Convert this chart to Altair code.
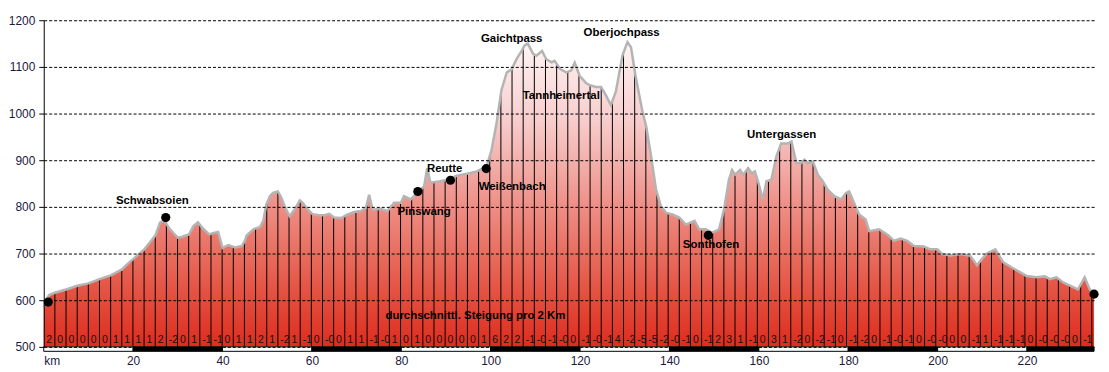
import altair as alt
import pandas as pd

# ---- elevation profile (km, metres) ----
prof_km = [0.0, 0.5, 1.2, 2.5, 5, 7.5, 10, 12.5, 15, 17.5, 19, 20, 22.5, 24, 25, 26, 27, 28, 29, 30,
           31, 32.5, 33.5, 34.5, 35.5, 37, 38, 39, 40, 41.3, 42.8, 44.3, 45, 45.4, 46.9, 48.4, 49.1,
           49.8, 50.6, 51.3, 52.4, 53.2, 53.9, 55, 56.1, 57.3, 58, 59.1, 60.2, 61.7, 62.8, 63.9, 65,
           66.5, 68, 69.5, 71, 72.1, 72.8, 73.6, 75.4, 76.9, 78.4, 79.9, 80.6, 82.1, 83.6, 85.1, 85.8,
           86.5, 88.7, 90.2, 92.4, 94.7, 96.9, 99.1, 100.2, 101.3, 102.4, 103.6, 104.7, 105.8, 106.9,
           107.6, 108.3, 109.5, 110.2, 111.5, 112.4, 113.6, 114.3, 115.5, 116.9, 118.0, 118.8, 119.9,
           121.4, 122.4, 123.6, 124.7, 125.8, 126.9, 128.0, 129.5, 130.6, 131.4, 132.4, 133.9, 134.8,
           135.9, 137, 138.1, 139.3, 140.7, 142.2, 143.7, 145.6, 146.7, 148.1, 149.6, 151.1, 152.2,
           153.3, 154, 154.7, 155.8, 156.5, 157.6, 158.4, 159.1, 159.8, 160.9, 161.7, 162.8, 163.9,
           165, 166.5, 167.3, 168.4, 169.5, 170.2, 170.9, 172.1, 173.2, 174.3, 175.4, 176.9, 178.4,
           179.5, 180.2, 181.3, 182.4, 183.9, 184.7, 186.9, 189.1, 190.2, 191.7, 193.2, 194.7, 196.9,
           198.4, 199.9, 201, 202.9, 205.1, 207.3, 208.8, 209.9, 211, 212.9, 214.7, 216.6, 218.4,
           219.9, 222.1, 224, 225.1, 226.6, 228.1, 229.6, 231.4, 232.1, 232.9, 234, 235]
prof_elev = [585, 600, 611, 616, 623, 631, 636, 645, 653, 666, 680, 688, 709, 727, 739, 766, 771, 755, 744, 734,
             736, 741, 759, 767, 755, 741, 744, 746, 712, 718, 713, 716, 727, 739, 752, 757, 770,
             805, 823, 830, 833, 819, 801, 780, 794, 814, 808, 794, 784, 782, 782, 785, 777,
             776, 784, 789, 791, 798, 826, 794, 796, 791, 809, 809, 823, 816, 831, 844, 883,
             852, 855, 858, 867, 871, 876, 887, 922, 979, 1050, 1088, 1095, 1117, 1134,
             1146, 1150, 1128, 1124, 1134, 1117, 1110, 1113, 1096, 1088, 1092, 1109, 1081,
             1065, 1060, 1057, 1057, 1039, 1018, 1047, 1125, 1153, 1142, 1081, 1007, 972,
             908, 837, 801, 787, 784, 777, 762, 770, 752, 752, 745, 752, 794,
             858, 879, 869, 879, 869, 883, 872, 876, 855, 816, 855, 858, 908,
             936, 936, 940, 894, 894, 901, 894, 897, 869, 855, 837, 823, 816,
             830, 833, 809, 784, 773, 748, 752, 738, 727, 732, 727, 716, 715,
             709, 709, 699, 696, 699, 695, 675, 688, 700, 709, 681, 670, 660,
             652, 649, 651, 645, 649, 638, 631, 623, 635, 649, 624, 613]

# ---- average gradient per segment (text) ----
grad_labels = ["2", "0", "0", "0", "0", "0", "1", "1",
               "1", "1", "2", "-2", "0", "1", "-1", "-1",
               "0", "1", "1", "2", "1", "-2", "1", "-1",
               "0", "-0", "0", "1", "1", "-1", "-0", "1",
               "0", "1", "0", "0", "0", "0", "0", "1",
               "6", "2", "2", "-1", "-0", "-1", "-0", "0",
               "-1", "-0", "-1", "4", "-2", "-5", "-5", "-2",
               "-0", "-1", "0", "-1", "2", "3", "1", "-1",
               "0", "3", "1", "-2", "0", "-2", "-1", "0",
               "-1", "-2", "0", "-1", "-0", "-1", "0", "-0",
               "-0", "0", "0", "-1", "1", "-1", "-1", "-1",
               "0", "-0", "-0", "-0", "0", "-1"]
SEG_LEN = 2.4947  # km between the vertical segment lines

# ---- places ----
place_names = ["Schwabsoien", "Pinswang", "Reutte", "Weißenbach", "Gaichtpass", "Oberjochpass",
               "Tannheimertal", "Sonthofen", "Untergassen", "durchschnittl. Steigung pro 2 Km"]
place_km = [24.3, 85.1, 89.7, 104.8, 104.7, 129.3, 115.8, 149.3, 165.1, 96.6]
place_elev = [813, 790, 882, 842, 1160, 1172, 1037, 719, 955, 567]

dot_km = [1.0, 27.3, 83.7, 91.0, 99.0, 148.7, 235.0]
dot_elev = [596, 777, 833, 857, 882, 739, 613]

# ---- distance band under the plot ----
band_start = [0, 20, 40, 60, 80, 100, 120, 140, 160, 180, 200, 220]
band_end = [20, 40, 60, 80, 100, 120, 140, 160, 180, 200, 220, 235]
band_fill = ["white", "black"] * 6

x_ticks = [0, 20, 40, 60, 80, 100, 120, 140, 160, 180, 200, 220]
y_ticks = [500, 600, 700, 800, 900, 1000, 1100, 1200]

prof = pd.DataFrame({"km": prof_km, "elev": prof_elev})
segs = pd.DataFrame({"km": [i * SEG_LEN for i in range(1, len(grad_labels) + 1)]})
grads = pd.DataFrame({"km": [i * SEG_LEN for i in range(len(grad_labels))], "g": grad_labels})
places = pd.DataFrame({"km": place_km, "elev": place_elev, "name": place_names})
dots = pd.DataFrame({"km": dot_km, "elev": dot_elev})
band = pd.DataFrame({"km": band_start, "km2": band_end, "fill": band_fill})

FONT = "Liberation Sans"
xscale = alt.Scale(domain=[0, 235], nice=False, zero=False)
yscale = alt.Scale(domain=[500, 1200], nice=False, zero=False)
xaxis = alt.Axis(values=x_ticks, ticks=False, domain=False, grid=False, title=None,
                 labelExpr="datum.value == 0 ? 'km' : datum.label", format="d",
                 labelFont=FONT, labelFontSize=12, labelColor="#1a1a40", labelPadding=9)
yaxis = alt.Axis(values=y_ticks, title=None, tickSize=5, tickColor="black", domainColor="black",
                 format="d",
                 labelFont=FONT, labelFontSize=12, labelColor="#1a1a40", labelPadding=4,
                 grid=True, gridColor="black", gridDash=[3, 2], gridWidth=1, gridOpacity=1, zindex=1)

X = alt.X("km:Q", scale=xscale, axis=xaxis, title=None)
Y = alt.Y("elev:Q", scale=yscale, axis=yaxis, title=None)

grad_fill = alt.Gradient(
    gradient="linear", x1=0, x2=0, y1=0, y2=1,
    stops=[alt.GradientStop(color="#fff7f7", offset=0),
           alt.GradientStop(color="#fce6e6", offset=0.09),
           alt.GradientStop(color="#f8d0d0", offset=0.24),
           alt.GradientStop(color="#f3b0ac", offset=0.39),
           alt.GradientStop(color="#ee8e86", offset=0.54),
           alt.GradientStop(color="#e86c5e", offset=0.70),
           alt.GradientStop(color="#e34b3b", offset=0.85),
           alt.GradientStop(color="#de2c1e", offset=1)])

fill = alt.Chart(prof).mark_area(color=grad_fill).encode(x=X, y=Y, y2=alt.datum(500))
rules = alt.Chart(segs).mark_rule(color="black", strokeWidth=1).encode(
    x=X, y=alt.datum(500), y2=alt.datum(1200))
cover = alt.Chart(prof).mark_area(color="white").encode(x=X, y=Y, y2=alt.datum(1200))
outline = alt.Chart(prof).mark_line(color="#b4b4b4", strokeWidth=2.5).encode(x=X, y=Y)
bandl = alt.Chart(band).mark_rect(stroke="black", strokeWidth=1, y2Offset=4.5).encode(
    x=X, x2="km2:Q", y=alt.datum(500), y2=alt.datum(500),
    fill=alt.Fill("fill:N", scale=None))
dotl = alt.Chart(dots).mark_circle(size=85, color="black", opacity=1).encode(x=X, y=Y)
names = alt.Chart(places).mark_text(font=FONT, fontSize=11.5, fontWeight="bold", color="black",
                                    align="center", baseline="middle").encode(x=X, y=Y, text="name:N")
gradt = alt.Chart(grads).mark_text(font=FONT, fontSize=10.5, color="#111111", align="left",
                                   baseline="alphabetic", dx=2.5, dy=-4).encode(
    x=X, y=alt.datum(500), text="g:N")

chart = alt.layer(fill, rules, cover, outline, bandl, dotl, names, gradt).properties(
    width=1058, height=329,
    autosize=alt.AutoSizeParams(type="none"),
    padding={"left": 36, "top": 11, "right": 7, "bottom": 24},
).configure_view(stroke=None)

chart.save("out.html", embed_options={"renderer": "svg", "actions": False})
